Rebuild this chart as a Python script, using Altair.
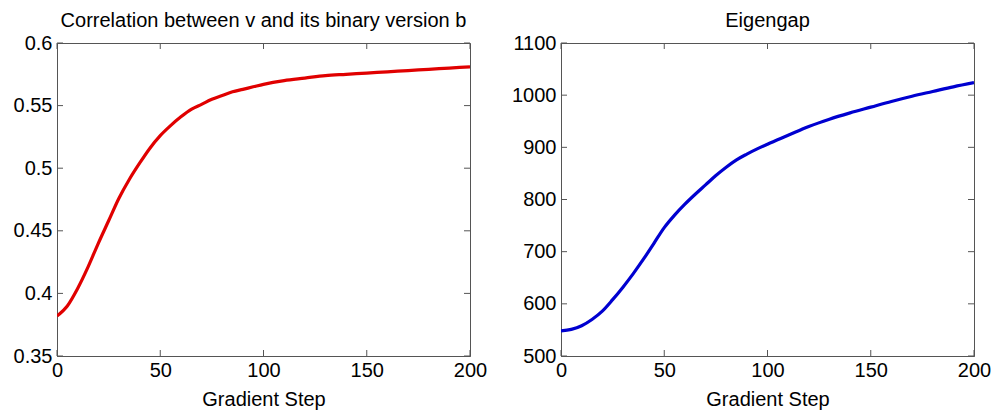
import altair as alt
import pandas as pd

steps = [0, 5, 10, 15, 20, 25, 30, 35, 40, 45, 50, 55, 60, 65, 70, 75, 80, 85, 90, 95, 100,
         110, 120, 130, 140, 150, 160, 170, 180, 190, 200]
correlation = [0.382, 0.390, 0.404, 0.421, 0.440, 0.458, 0.476, 0.491, 0.504, 0.516, 0.526,
               0.534, 0.541, 0.547, 0.551, 0.555, 0.558, 0.561, 0.563, 0.565, 0.567,
               0.570, 0.572, 0.574, 0.575, 0.576, 0.577, 0.578, 0.579, 0.580, 0.581]
eigengap = [548, 551, 558, 570, 586, 608, 632, 658, 686, 716, 746, 770, 791, 810, 828, 846,
            862, 876, 887, 897, 906, 923, 940, 954, 966, 977, 988, 998, 1007, 1016, 1024]

x_ticks = [0, 50, 100, 150, 200]
left_y_ticks = [0.35, 0.4, 0.45, 0.5, 0.55, 0.6]
right_y_ticks = [500, 600, 700, 800, 900, 1000, 1100]

W, H = 413, 313
TL = 6
FONT = "Liberation Sans"
AXC = "#555555"
FS = 20


def panel(values, color, title, ydomain, yticks, yfmt):
    df = pd.DataFrame({"step": steps, "v": values})
    xs = alt.Scale(domain=[0, 200], nice=False)
    ys = alt.Scale(domain=ydomain, nice=False, zero=False)
    line = alt.Chart(df).mark_line(color=color, strokeWidth=3.2, clip=True,
                                   interpolate="monotone").encode(
        x=alt.X("step:Q", scale=xs,
                axis=alt.Axis(values=x_ticks, title="Gradient Step", tickSize=0,
                              labelPadding=4, titlePadding=9, grid=False,
                              domainColor=AXC, labelFlush=False)),
        y=alt.Y("v:Q", scale=ys,
                axis=alt.Axis(values=yticks, title=None, tickSize=0, labelPadding=5,
                              grid=False, domainColor=AXC, format=yfmt, labelFlush=False)),
    )
    xt = pd.DataFrame({"t": x_ticks})
    yt = pd.DataFrame({"t": yticks})
    bot = alt.Chart(xt).mark_rule(color=AXC, strokeWidth=1).encode(
        x=alt.X("t:Q", scale=xs), y=alt.value(H), y2=alt.value(H - TL))
    top = alt.Chart(xt).mark_rule(color=AXC, strokeWidth=1).encode(
        x=alt.X("t:Q", scale=xs), y=alt.value(0), y2=alt.value(TL))
    lft = alt.Chart(yt).mark_rule(color=AXC, strokeWidth=1).encode(
        y=alt.Y("t:Q", scale=ys), x=alt.value(0), x2=alt.value(TL))
    rgt = alt.Chart(yt).mark_rule(color=AXC, strokeWidth=1).encode(
        y=alt.Y("t:Q", scale=ys), x=alt.value(W), x2=alt.value(W - TL))
    return alt.layer(bot, top, lft, rgt, line).properties(
        width=W, height=H,
        title=alt.TitleParams(title, fontSize=FS, font=FONT, fontWeight="normal",
                              color="black", offset=2, anchor="middle"),
    )


left = panel(correlation, "#e00000", "Correlation between v and its binary version b",
             [0.35, 0.6], left_y_ticks, "")
right = panel(eigengap, "#0000d0", "Eigengap", [500, 1100], right_y_ticks, "d")

chart = alt.hconcat(left, right, spacing=23).properties(
    padding={"left": 4, "top": 2, "right": 2, "bottom": 0}
).configure_view(stroke=AXC, strokeWidth=1).configure_axis(
    labelFont=FONT, labelFontSize=FS, labelColor="black",
    titleFont=FONT, titleFontSize=FS, titleFontWeight="normal", titleColor="black",
    domainWidth=1,
)

chart.save("out.html", embed_options={"renderer": "svg", "actions": False})
